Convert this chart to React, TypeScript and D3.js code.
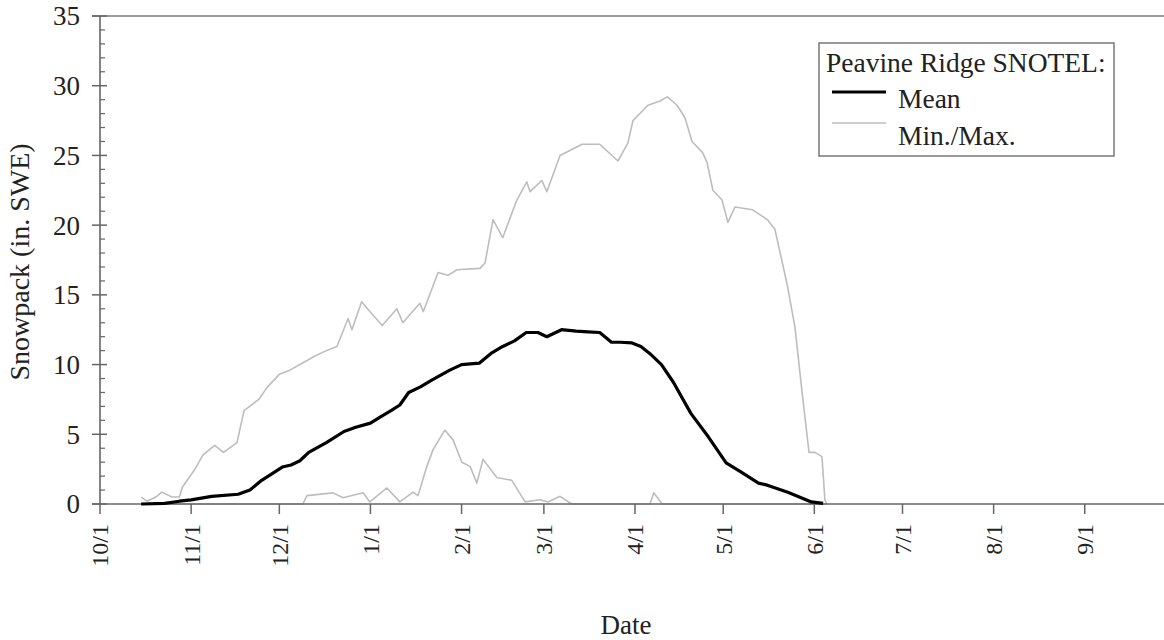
import React from "react";
import * as d3 from "d3";

// Days since 10/1 (water year) and snow water equivalent (in.)
const meanDay = [14, 22, 27, 31, 38, 47, 51, 55, 62, 65, 68, 71, 77, 83, 87, 92, 95, 99, 102, 105, 109, 113, 119, 123, 129, 133, 137, 141, 145, 149, 152, 157, 162, 166, 170, 174, 177, 181, 184, 187, 191, 195, 201, 207, 213, 218, 224, 227, 234, 242, 246];
const meanSwe = [0, 0.05, 0.2, 0.3, 0.55, 0.7, 1.0, 1.7, 2.65, 2.8, 3.1, 3.7, 4.4, 5.2, 5.5, 5.8, 6.2, 6.7, 7.1, 8.0, 8.4, 8.9, 9.6, 10.0, 10.1, 10.8, 11.3, 11.7, 12.3, 12.3, 12.0, 12.5, 12.4, 12.35, 12.3, 11.6, 11.6, 11.55, 11.3, 10.8, 10.0, 8.75, 6.5, 4.8, 2.95, 2.3, 1.5, 1.35, 0.85, 0.15, 0.05];

const maxDay = [14, 16, 19, 21, 24.5, 27, 28, 32, 35, 39, 42, 46.6, 49, 54, 57, 61, 64.6, 68, 73, 77, 80.6, 84.4, 85.7, 89, 91.8, 96, 101, 103, 108.8, 110, 115, 118.4, 121.4, 129.3, 131, 133.7, 137, 141.8, 145.2, 146.3, 150.3, 152, 156.5, 164, 170, 176.2, 179.6, 181.3, 186.4, 190.5, 193, 196.3, 199, 201.4, 205, 206.5, 208.5, 211.6, 213.6, 216, 222, 227, 229.6, 233.7, 236.4, 239, 241.2, 243.2, 245.6, 246.6, 247.3];
const maxSwe = [0.5, 0.2, 0.5, 0.85, 0.5, 0.5, 1.2, 2.4, 3.5, 4.2, 3.7, 4.4, 6.7, 7.5, 8.4, 9.3, 9.6, 10.0, 10.6, 11.0, 11.3, 13.3, 12.5, 14.5, 13.8, 12.8, 14.0, 13.0, 14.4, 13.8, 16.6, 16.4, 16.8, 16.9, 17.3, 20.4, 19.1, 21.8, 23.1, 22.4, 23.2, 22.4, 25.0, 25.8, 25.8, 24.6, 25.9, 27.5, 28.6, 28.9, 29.2, 28.6, 27.7, 26.0, 25.2, 24.5, 22.5, 21.8, 20.2, 21.3, 21.1, 20.4, 19.7, 15.8, 12.7, 7.7, 3.7, 3.7, 3.4, 0.3, 0];

const minDay = [14, 69, 70.4, 79.3, 82.7, 89.5, 91.8, 97.6, 102, 106.5, 108.2, 111.2, 113.3, 117.3, 120.1, 123.1, 125.9, 128.2, 130.3, 135, 140.1, 144.6, 149.7, 152.4, 156.5, 160.5, 187.1, 188.4, 191.2, 247.3];
const minSwe = [0, 0, 0.6, 0.8, 0.45, 0.8, 0.15, 1.15, 0.15, 0.85, 0.6, 2.7, 3.9, 5.3, 4.6, 3.0, 2.7, 1.5, 3.2, 1.9, 1.7, 0.15, 0.3, 0.15, 0.55, 0, 0, 0.8, 0, 0];

const monthTickDays = [0, 31, 61, 92, 123, 151, 182, 212, 243, 273, 304, 335];
const monthTickLabels = ["10/1", "11/1", "12/1", "1/1", "2/1", "3/1", "4/1", "5/1", "6/1", "7/1", "8/1", "9/1"];
const yTicks = [0, 5, 10, 15, 20, 25, 30, 35];

const W = 1164;
const H = 640;
const FONT = '"Liberation Serif", "Times New Roman", Times, "DejaVu Serif", serif';
const TEXT = "#222";
const AXIS = "#666";
const GRAYLINE = "#bdbdbd";

export default function App() {
  const x = d3.scaleLinear().domain([0, 364]).range([100, 1170]);
  const y = d3.scaleLinear().domain([0, 35]).range([504, 16]);

  const line = d3
    .line<[number, number]>()
    .x((d) => x(d[0]))
    .y((d) => y(d[1]))
    .curve(d3.curveLinear);

  const meanPts = meanDay.map((d, i) => [d, meanSwe[i]] as [number, number]);
  const maxPts = maxDay.map((d, i) => [d, maxSwe[i]] as [number, number]);
  const minPts = minDay.map((d, i) => [d, minSwe[i]] as [number, number]);

  const minorTicks = d3.range(0, 36, 1).filter((v) => v % 5 !== 0);
  const ts = { fontFamily: FONT };

  return (
    <svg
      width={W}
      height={H}
      style={{ position: "absolute", left: 0, top: 0, background: "#fff", fontFamily: FONT }}
    >
      <rect x={0} y={0} width={W} height={H} fill="#fff" />
      {/* top frame */}
      <line x1={92} x2={W} y1={y(35)} y2={y(35)} stroke="#999" strokeWidth={2} />

      {/* data lines */}
      <path d={line(minPts) || ""} fill="none" stroke={GRAYLINE} strokeWidth={1.6} strokeLinejoin="round" />
      <path d={line(maxPts) || ""} fill="none" stroke={GRAYLINE} strokeWidth={1.6} strokeLinejoin="round" />

      {/* x axis */}
      <line x1={92} x2={W} y1={y(0)} y2={y(0)} stroke={AXIS} strokeWidth={1.6} />
      {monthTickDays.map((d, i) => (
        <g key={"xt" + i}>
          <line x1={x(d)} x2={x(d)} y1={y(0)} y2={y(0) + 10} stroke={AXIS} strokeWidth={1.5} />
          <text
            transform={`translate(${x(d)},524) rotate(-90)`}
            textAnchor="end"
            dy="0.35em"
            fontSize={24}
            fill={TEXT}
            style={ts}
          >
            {monthTickLabels[i]}
          </text>
        </g>
      ))}

      {/* y axis */}
      <line x1={x(0)} x2={x(0)} y1={y(0)} y2={y(35)} stroke={AXIS} strokeWidth={1.6} />
      {minorTicks.map((v) => (
        <line key={"ym" + v} x1={x(0)} x2={x(0) + 5} y1={y(v)} y2={y(v)} stroke={AXIS} strokeWidth={1.2} />
      ))}
      {yTicks.map((v) => (
        <g key={"yt" + v}>
          <line x1={92} x2={107} y1={y(v)} y2={y(v)} stroke={AXIS} strokeWidth={1.5} />
          <text x={80} y={y(v)} dy="0.35em" textAnchor="end" fontSize={27} fill={TEXT} style={ts}>
            {v}
          </text>
        </g>
      ))}

      {/* mean line */}
      <path d={line(meanPts) || ""} fill="none" stroke="#000" strokeWidth={3.2} strokeLinejoin="round" />

      {/* axis titles */}
      <text transform="translate(29,262) rotate(-90)" textAnchor="middle" fontSize={28} fill={TEXT} style={ts}>
        Snowpack (in. SWE)
      </text>
      <text x={626} y={634} textAnchor="middle" fontSize={27} fill={TEXT} style={ts}>
        Date
      </text>

      {/* legend */}
      <rect x={819} y={43} width={295} height={113} fill="#fff" stroke="#777" strokeWidth={1.5} />
      <text x={826} y={72} fontSize={27.5} fill={TEXT} style={ts}>
        Peavine Ridge SNOTEL:
      </text>
      <line x1={832} x2={886} y1={92} y2={92} stroke="#000" strokeWidth={3.2} />
      <text x={898} y={108} fontSize={27.5} fill={TEXT} style={ts}>
        Mean
      </text>
      <line x1={832} x2={886} y1={123} y2={123} stroke={GRAYLINE} strokeWidth={1.6} />
      <text x={898} y={145} fontSize={27.5} fill={TEXT} style={ts}>
        Min./Max.
      </text>
    </svg>
  );
}
